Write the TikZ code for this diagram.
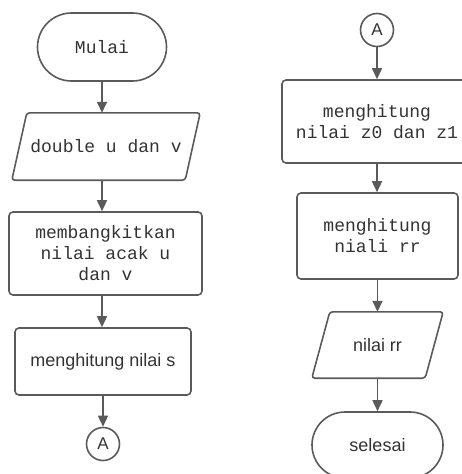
\documentclass[tikz,border=0pt]{standalone}
\usepackage{fontspec}
\setmainfont{Liberation Sans}
\setmonofont{Liberation Mono}
\setsansfont{Liberation Sans}
\usetikzlibrary{shapes.misc,arrows.meta}
\definecolor{linegray}{HTML}{5A5A5A}
\definecolor{textgray}{HTML}{333333}
\tikzset{
  base/.style={line width=1.6pt, draw=linegray, text=textgray, align=center, inner sep=2pt},
  mono/.style={font=\fontsize{18}{21}\selectfont\ttfamily},
  sans/.style={font=\fontsize{18}{21}\selectfont\sffamily},
  term/.style={base, rounded rectangle, minimum height=#1},
  proc/.style={base, rectangle, rounded corners=4pt},
  ghost/.style={rectangle, draw=none, text=textgray, align=center, inner sep=0pt},
  conn/.style={base, circle, minimum size=33pt, inner sep=0pt, font=\fontsize{17}{20}\selectfont\sffamily},
  arr/.style={line width=1.6pt, draw=linegray, -{Triangle[width=10pt,length=11pt]}},
  para/.style={line width=1.6pt, draw=linegray, rounded corners=3pt}
}
\begin{document}
\begin{tikzpicture}[x=1pt,y=-1pt]
\useasboundingbox (0,0) rectangle (461,474);
% left column
\node[term=68pt, mono, minimum width=133pt] (mulai) at (102,47) {Mulai};
\node[ghost, mono, minimum width=173pt, minimum height=67pt] (in1) at (106,146.5) {double u dan v};
\draw[para] ([xshift=7.5pt]in1.north west) -- ([xshift=7.5pt]in1.north east) -- ([xshift=-7.5pt]in1.south east) -- ([xshift=-7.5pt]in1.south west) -- cycle;
\node[proc, mono, minimum width=193pt, minimum height=83pt] (p1) at (105.5,253.5) {membangkitkan\\nilai acak u\\dan v};
\node[proc, sans, minimum width=176pt, minimum height=67pt] (p2) at (103,361.5) {menghitung nilai s};
\node[conn] (a1) at (103,444) {A};
% right column
\node[conn] (a2) at (377,30) {A};
\node[proc, mono, minimum width=190pt, minimum height=83pt] (p3) at (377,121.5) {menghitung\\nilai z0 dan z1};
\node[proc, mono, minimum width=161pt, minimum height=86pt] (p4) at (377.5,236) {menghitung\\niali rr};
\node[ghost, sans, minimum width=113pt, minimum height=66pt] (out1) at (377.5,345) {nilai rr};
\draw[para] ([xshift=9pt]out1.north west) -- ([xshift=9pt]out1.north east) -- ([xshift=-9pt]out1.south east) -- ([xshift=-9pt]out1.south west) -- cycle;
\node[term=66pt, sans, minimum width=135pt] (selesai) at (377.5,445) {selesai};
% connectors
\draw[arr] (mulai.south) -- (mulai.south |- in1.north);
\draw[arr] (in1.south -| mulai.south) -- (mulai.south |- p1.north);
\draw[arr] (p1.south -| mulai.south) -- (mulai.south |- p2.north);
\draw[arr] (p2.south) -- (a1.north);
\draw[arr] (a2.south) -- (a2.south |- p3.north);
\draw[arr] (p3.south) -- (p3.south |- p4.north);
\draw[arr] (p4.south) -- (p4.south |- out1.north);
\draw[arr] (out1.south) -- (out1.south |- selesai.north);
\end{tikzpicture}
\end{document}
